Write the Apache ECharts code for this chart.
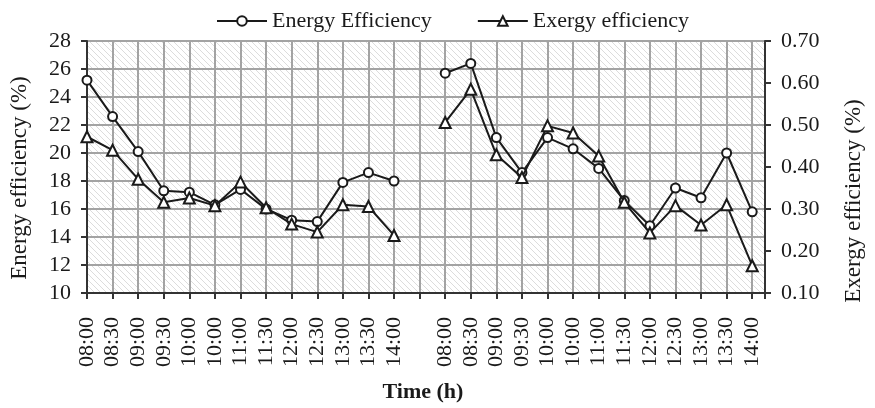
<!DOCTYPE html>
<html>
<head>
<meta charset="utf-8">
<script src="https://cdn.jsdelivr.net/npm/echarts@6/dist/echarts.min.js"></script>
<style>
  html, body { margin: 0; padding: 0; background: #fff; }
  #chart { width: 875px; height: 408px; }
</style>
</head>
<body>
<div id="chart"></div>
<script>
// Two measurement days, half-hourly readings, separated by an empty slot
const times = [
  '08:00', '08:30', '09:00', '09:30', '10:00', '10:00', '11:00', '11:30', '12:00', '12:30', '13:00', '13:30', '14:00',
  '',
  '08:00', '08:30', '09:00', '09:30', '10:00', '10:00', '11:00', '11:30', '12:00', '12:30', '13:00', '13:30', '14:00'
];

// Energy efficiency (%), left axis
const energyEff = [
  25.2, 22.6, 20.1, 17.3, 17.2, 16.3, 17.4, 16.0, 15.2, 15.1, 17.9, 18.6, 18.0,
  null,
  25.7, 26.4, 21.1, 18.6, 21.1, 20.3, 18.9, 16.6, 14.8, 17.5, 16.8, 20.0, 15.8
];

// Exergy efficiency, right axis
const exergyEff = [
  0.472, 0.440, 0.371, 0.316, 0.326, 0.308, 0.364, 0.303, 0.264, 0.245, 0.310, 0.306, 0.237,
  null,
  0.506, 0.585, 0.429, 0.375, 0.498, 0.481, 0.426, 0.316, 0.243, 0.308, 0.262, 0.310, 0.165
];

const leftTicks = { min: 10, max: 28, step: 2 };
const rightTicks = { min: 0.1, max: 0.7, step: 0.1 };

// Diagonal hatch used as the plot background
function hatchPattern() {
  const c = document.createElement('canvas');
  const s = 6;
  c.width = s; c.height = s;
  const g = c.getContext('2d');
  g.fillStyle = '#ffffff';
  g.fillRect(0, 0, s, s);
  g.strokeStyle = '#dcdcdc';
  g.lineWidth = 1;
  g.beginPath();
  g.moveTo(-1, -1); g.lineTo(s + 1, s + 1);
  g.moveTo(-1, s - 1); g.lineTo(1, s + 1);
  g.moveTo(s - 1, -1); g.lineTo(s + 1, 1);
  g.stroke();
  return { image: c, repeat: 'repeat' };
}

const font = 'Liberation Serif';
const ink = '#1a1a1a';
const fs = 22;

const chart = echarts.init(document.getElementById('chart'), null, { renderer: 'canvas' });

chart.setOption({
  animation: false,
  textStyle: { fontFamily: font, color: ink },
  legend: {
    top: 5,
    left: 211,
    itemGap: 45,
    itemWidth: 50,
    itemHeight: 12,
    textStyle: { fontFamily: font, fontSize: fs, color: ink },
    data: ['Energy Efficiency', 'Exergy efficiency']
  },
  grid: {
    left: 87,
    right: 110,
    top: 41,
    bottom: 106,
    show: true,
    borderWidth: 0,
    backgroundColor: hatchPattern()
  },
  xAxis: {
    type: 'value',
    min: 0,
    max: times.length - 0.5,
    interval: 1,
    name: 'Time (h)',
    nameLocation: 'middle',
    nameGap: 88,
    nameTextStyle: { fontFamily: font, fontSize: fs, fontWeight: 'bold', color: ink, padding: [0, 6, 0, 0] },
    axisLine: { lineStyle: { color: '#333', width: 2 } },
    axisTick: { show: true, length: 6, lineStyle: { color: '#333', width: 2 } },
    axisLabel: {
      rotate: 90,
      margin: 24,
      fontFamily: font,
      fontSize: fs,
      color: ink,
      showMinLabel: true,
      showMaxLabel: true,
      hideOverlap: false,
      formatter: v => (Number.isInteger(v) && times[v] !== undefined) ? times[v] : ''
    },
    splitLine: { show: true, lineStyle: { color: '#a3a3a3', width: 2 } }
  },
  yAxis: [
    {
      type: 'value',
      position: 'left',
      min: leftTicks.min,
      max: leftTicks.max,
      interval: leftTicks.step,
      name: 'Energy efficiency (%)',
      nameLocation: 'middle',
      nameRotate: 90,
      nameGap: 56,
      nameTextStyle: { fontFamily: font, fontSize: 23, color: ink, padding: [0, 22, 0, 0] },
      axisLine: { show: true, lineStyle: { color: '#333', width: 2 } },
      axisTick: { show: true, length: 6, lineStyle: { color: '#333', width: 2 } },
      axisLabel: { margin: 16, fontFamily: font, fontSize: fs, color: ink },
      splitLine: { show: true, lineStyle: { color: '#a3a3a3', width: 2 } }
    },
    {
      type: 'value',
      position: 'right',
      min: rightTicks.min,
      max: rightTicks.max,
      interval: rightTicks.step,
      name: 'Exergy efficiency (%)',
      nameLocation: 'middle',
      nameRotate: 90,
      nameGap: 77,
      nameTextStyle: { fontFamily: font, fontSize: 23, color: ink, padding: [0, 68, 0, 0] },
      axisLine: { show: true, lineStyle: { color: '#333', width: 2 } },
      axisTick: { show: true, length: 6, lineStyle: { color: '#333', width: 2 } },
      axisLabel: { margin: 16, fontFamily: font, fontSize: fs, color: ink, formatter: v => v.toFixed(2) },
      splitLine: { show: false }
    }
  ],
  series: [
    {
      name: 'Energy Efficiency',
      type: 'line',
      yAxisIndex: 0,
      data: energyEff.map((v, i) => [i, v]),
      symbol: 'circle',
      symbolSize: 9,
      lineStyle: { color: ink, width: 2 },
      itemStyle: { color: '#fff', borderColor: ink, borderWidth: 2 },
      z: 3
    },
    {
      name: 'Exergy efficiency',
      type: 'line',
      yAxisIndex: 1,
      data: exergyEff.map((v, i) => [i, v]),
      symbol: 'triangle',
      symbolSize: 11,
      lineStyle: { color: ink, width: 2 },
      itemStyle: { color: '#fff', borderColor: ink, borderWidth: 2 },
      z: 4
    }
  ]
});
</script>
</body>
</html>
